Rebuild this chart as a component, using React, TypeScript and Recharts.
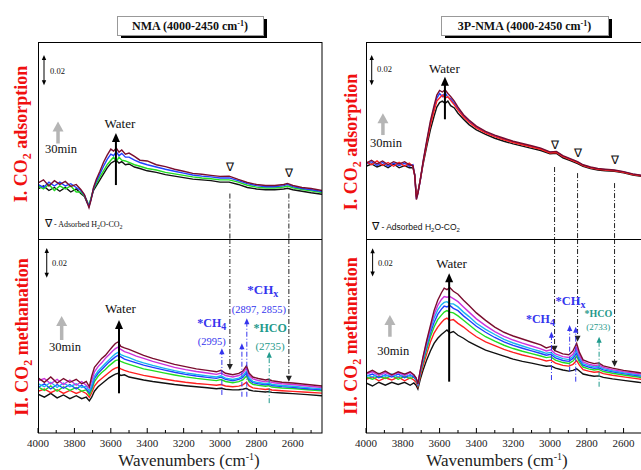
import React from 'react';
import { LineChart, Line, XAxis, YAxis, ReferenceLine, ReferenceDot } from 'recharts';

const SERIF = '"Liberation Serif", "Times New Roman", Times, serif';
const SANS = '"Liberation Sans", Arial, sans-serif';

// absorbance in units of 0.001 (scale bar "0.02" = 20)
const X_DOMAIN: [number, number] = [2440, 4000];
const Y_DOMAIN: [number, number] = [0, 130];
const X_TICKS = [4000, 3900, 3800, 3700, 3600, 3500, 3400, 3300, 3200, 3100, 3000, 2900, 2800, 2700, 2600, 2500];

const COLORS = {
  black: '#111111',
  red: '#ff2020',
  green: '#22dd22',
  blue: '#2040ff',
  cyan: '#19b5f0',
  magenta: '#cc33dd',
  maroon: '#7a0d2e',
};
const ANN_BLUE = '#3535ee';
const ANN_TEAL = '#1f9a8c';

// ---- NMA, I. CO2 adsorption ----
const nmaAdsW = [4000, 3970, 3940, 3910, 3880, 3850, 3820, 3790, 3765, 3745, 3730, 3720, 3708, 3695, 3680, 3660, 3640, 3620, 3600, 3585, 3570, 3555, 3540, 3520, 3500, 3470, 3440, 3400, 3350, 3300, 3250, 3200, 3150, 3100, 3050, 3000, 2950, 2900, 2850, 2800, 2750, 2700, 2650, 2630, 2600, 2550, 2500, 2440];
const nmaAdsBlack = [33, 35, 32, 34, 31.5, 34, 31, 33, 30, 28, 24, 22, 27, 32, 35, 39, 43, 47, 50, 51, 52, 50, 51, 49, 49.5, 47.5, 46.5, 45, 44, 42.5, 41.5, 40.5, 39.5, 39, 38.5, 37.5, 37.5, 36, 34, 33, 32.5, 32.5, 33, 33.5, 32.5, 31.5, 30.5, 29.5];
const nmaAdsGreen = [35, 33, 36, 32, 35, 33, 35, 31, 31, 28.5, 25, 22, 27.5, 33, 36.5, 41, 45, 49, 52, 54, 51, 54, 52, 51.5, 50.5, 49, 48, 46.5, 45.5, 44, 43, 42, 41, 40.3, 39.8, 39, 39, 37.5, 35.5, 34.2, 33.7, 33.7, 34.3, 35, 33.8, 32.7, 31.8, 30.7];
const nmaAdsBlue = [36, 34, 37.5, 35, 37.5, 35, 36.5, 34, 32, 29, 24.5, 21.5, 26.5, 33.5, 38, 43, 48, 52.5, 56, 55, 57.5, 55, 56.5, 54, 54, 52, 50.5, 49, 47.5, 46, 44.7, 43.5, 42.2, 41.5, 41, 40.3, 40.3, 38.5, 36.5, 35.2, 34.5, 34.5, 35.2, 36, 34.6, 33.3, 32.5, 31.3];
const nmaAdsMaroon = [37, 39, 35, 38.5, 36, 38, 34.7, 36, 32.7, 29.3, 24, 20.7, 26, 34, 39.3, 44.7, 50.7, 55.3, 59.3, 58, 60, 57.3, 58.7, 56, 56.7, 54.5, 52, 51.5, 49, 47.8, 46, 44.7, 43.3, 42.7, 42, 41.3, 41.5, 39.3, 37.3, 36, 35.3, 35.3, 36, 36.7, 35.3, 34, 33.3, 32];

// ---- NMA, II. CO2 methanation ----
const nmaMetW = [4000, 3965, 3930, 3895, 3860, 3825, 3790, 3760, 3735, 3718, 3705, 3690, 3670, 3650, 3630, 3610, 3590, 3575, 3560, 3545, 3525, 3500, 3460, 3420, 3370, 3310, 3250, 3190, 3130, 3070, 3020, 2995, 2970, 2930, 2897, 2875, 2855, 2840, 2820, 2790, 2750, 2735, 2715, 2660, 2600, 2520, 2440];
const nmaMetBlack = [26, 24, 26.5, 23.5, 25.5, 23, 25, 23, 24, 21.5, 24, 28, 31, 33, 35, 37, 38.5, 39.5, 40, 38.5, 39, 37.5, 36.5, 35.5, 34.5, 33.5, 32.5, 31.7, 31, 30.3, 29.7, 30, 29.3, 28.9, 29, 29.3, 30, 28.8, 28.2, 27.9, 27.5, 27.7, 27.2, 26.8, 26.4, 25.7, 25];
const nmaMetRed = [28, 29.5, 27, 29, 26.5, 28.5, 26.5, 28, 26.5, 24, 27, 31.5, 34.5, 36.5, 38.5, 40.5, 42.5, 43.5, 44, 43, 42, 41, 39.8, 38.6, 37.5, 36.2, 35, 34, 33.2, 32.6, 32, 32.5, 31.5, 31, 31.4, 32.3, 34, 31.5, 30.2, 29.7, 29.2, 29.5, 28.8, 28.3, 27.9, 27.3, 26.7];
const nmaMetGreen = [31, 28.5, 31.5, 28, 31, 28.5, 30.5, 28, 29, 25.5, 29, 34.5, 38, 40.5, 42.5, 45, 47, 48.5, 49, 48, 47, 46, 44.5, 43, 41.8, 40.3, 38.9, 37.6, 36.6, 35.8, 35.1, 35.8, 34.5, 33.7, 34.4, 35.6, 38.2, 34.4, 32.6, 31.9, 31.3, 31.7, 30.8, 30.2, 29.8, 29, 28.3];
const nmaMetBlue = [30.5, 33, 29.5, 32.5, 30, 32.5, 29.5, 32, 29.5, 27, 30.5, 36.5, 40, 42.5, 45, 47.5, 49.5, 51, 52, 51, 49.5, 48.5, 47, 45.5, 44, 42.3, 40.7, 39.3, 38.2, 37.3, 36.6, 37.4, 35.9, 35, 35.9, 37.3, 40.2, 35.8, 33.8, 33, 32.3, 32.8, 31.8, 31.1, 30.6, 29.7, 28.9];
const nmaMetCyan = [33, 31, 34, 30.5, 33.5, 31, 33, 30.5, 31.5, 28, 32, 38, 41.5, 44, 46.5, 49, 51.5, 53, 54, 52.5, 51.5, 50.5, 48.5, 47, 45.3, 43.5, 41.8, 40.3, 39.2, 38.3, 37.5, 38.3, 36.8, 35.9, 36.8, 38.3, 41.5, 36.8, 34.6, 33.8, 33, 33.5, 32.5, 31.8, 31.3, 30.4, 29.6];
const nmaMetMagenta = [35, 36.5, 33, 36, 32.5, 35.5, 32, 34.5, 32, 30, 35, 41, 44.5, 47, 50, 52.5, 55, 56.5, 57.5, 56, 54.5, 53.5, 51.5, 50, 48, 46, 44, 42.5, 41.2, 40.2, 39.3, 40.2, 38.5, 37.5, 38.5, 40, 43.5, 38.5, 36.2, 35.2, 34.3, 34.8, 33.8, 33, 32.5, 31.5, 30.5];
const nmaMetMaroon = [37, 34, 37.5, 33.5, 36.5, 34, 36, 33, 34.5, 31, 38, 44, 47, 50, 52, 55, 58, 60, 61, 58, 57, 56, 54, 52, 50, 48, 46, 44.5, 43, 42, 41, 42, 40, 39, 40, 41.5, 45, 40, 37.5, 36.5, 35.5, 36, 35, 34, 33.5, 32.5, 31.5];

// ---- 3P-NMA, I. CO2 adsorption ----
const pAdsW = [4000, 3970, 3940, 3910, 3880, 3850, 3820, 3790, 3765, 3745, 3735, 3726, 3718, 3705, 3690, 3670, 3650, 3630, 3615, 3600, 3585, 3570, 3555, 3540, 3520, 3500, 3470, 3440, 3400, 3350, 3300, 3250, 3200, 3150, 3100, 3050, 3000, 2965, 2930, 2890, 2850, 2820, 2780, 2740, 2700, 2650, 2600, 2550, 2500, 2440];
const pAdsBlack = [48, 49.5, 47.5, 49, 47, 49.5, 47, 48.5, 47, 47, 42.5, 28, 31, 39, 49, 61, 72, 81, 87, 90, 91, 89.5, 91, 88, 86.5, 83, 79, 75.5, 72, 69, 66.5, 64.5, 62.8, 61.3, 59.8, 58.4, 56.3, 56.5, 53.6, 51.7, 49.8, 47.9, 46.4, 45.5, 45, 44.6, 43.6, 42.2, 41.2, 40.2];
const pAdsRed = [51, 49, 51.5, 48.5, 50.5, 48, 50.5, 48, 50, 48, 41.5, 27.5, 30.5, 39, 50, 63, 75, 84.5, 91, 93, 95, 93, 94, 91.5, 88.5, 85, 80.5, 77, 73.3, 70, 67.5, 65.5, 63.7, 62.2, 60.7, 59.2, 56.8, 57.1, 54.3, 52.4, 50.4, 48.5, 47, 46, 45.5, 45, 44, 42.6, 41.6, 40.6];
const pAdsBlue = [49.5, 51, 48.5, 50.5, 48, 50, 48.5, 50, 48, 49, 41.8, 26.5, 30, 38.5, 50.5, 64, 76.5, 86.5, 93, 96, 94, 96.5, 93.5, 92.5, 89.5, 86, 81.3, 77.8, 74, 70.5, 68, 66, 64.1, 62.6, 61.1, 59.6, 57.2, 57.5, 54.7, 52.7, 50.7, 48.8, 47.3, 46.3, 45.8, 45.3, 44.3, 42.8, 41.8, 40.8];
const pAdsMaroon = [50, 52, 49.5, 51.5, 49, 51, 49.5, 51, 49, 48.5, 42, 26, 30, 39, 51, 65, 78, 88, 95, 98, 97, 98.5, 96, 94, 91, 87, 82, 78.5, 74.5, 71, 68.5, 66.5, 64.5, 63, 61.5, 60, 57.5, 57.8, 55, 53, 51, 49, 47.5, 46.5, 46, 45.5, 44.5, 43, 42, 41];

// ---- 3P-NMA, II. CO2 methanation ----
const pMetW = [4000, 3965, 3930, 3895, 3860, 3825, 3790, 3760, 3740, 3728, 3718, 3705, 3690, 3670, 3650, 3630, 3610, 3590, 3575, 3560, 3545, 3525, 3500, 3470, 3440, 3400, 3350, 3300, 3250, 3200, 3150, 3100, 3050, 3020, 2995, 2970, 2930, 2897, 2875, 2855, 2840, 2820, 2790, 2760, 2735, 2710, 2660, 2600, 2520, 2440];
const pMetBlack = [33.5, 31.5, 34, 32, 34, 32.5, 34, 32, 33.5, 32, 29.5, 36, 42, 49, 55, 60, 63.5, 66, 67.5, 69, 67, 68, 65.5, 63.5, 61, 58.5, 55.5, 53.5, 51.5, 49.5, 48, 46.8, 45.5, 44.7, 45, 43.5, 42.2, 41.5, 42, 43, 41.5, 39.5, 38.7, 38, 38.3, 37.3, 36.3, 35.3, 34, 32.7];
const pMetRed = [36, 37.5, 35, 37, 35.5, 37.5, 35, 37, 35.5, 34, 31, 38, 45, 53, 61, 67, 71, 74, 76, 77, 75.5, 76, 73.5, 71, 68, 64.5, 61, 58.5, 56, 54, 52.3, 50.8, 49.3, 48.3, 48.8, 46.8, 45.3, 44.8, 46, 48.5, 45.5, 42.5, 41.5, 40.7, 41, 39.8, 38.7, 37.6, 36.3, 35];
const pMetGreen = [37.5, 36, 38, 36.5, 38.5, 36, 38, 36.5, 37.5, 35.5, 32, 39.5, 47, 56, 64.5, 71, 76, 79, 81, 82, 81, 80.5, 78.5, 75.5, 72.5, 68.5, 64.5, 61.5, 58.8, 56.6, 54.8, 53.2, 51.6, 50.5, 51, 48.8, 47.2, 46.6, 48.2, 51.5, 47.5, 44.2, 43, 42.2, 42.6, 41.2, 40, 38.9, 37.5, 36.1];
const pMetBlue = [38, 39.5, 37, 39, 37.5, 39.5, 37, 39, 37.5, 36, 32.5, 40.5, 48.5, 58, 67, 74, 79.5, 83, 85, 84.5, 85.5, 83.5, 82, 78.5, 75.5, 71.5, 67.5, 64, 61, 58.7, 56.8, 55, 53.3, 52.1, 52.7, 50.3, 48.6, 48, 50, 53.5, 49, 45.5, 44.2, 43.3, 43.7, 42.3, 41, 39.8, 38.4, 37];
const pMetCyan = [39, 37.5, 40, 38, 39.5, 37.5, 39.5, 38, 39, 36.5, 33, 41, 49.5, 59.5, 69, 77, 82.5, 86, 87.5, 88, 86.5, 86.5, 84.5, 81, 78, 73.5, 69.5, 66, 62.8, 60.3, 58.3, 56.4, 54.6, 53.4, 54, 51.6, 49.8, 49.2, 51.3, 55.5, 50.5, 46.5, 45.2, 44.2, 44.6, 43.1, 41.7, 40.4, 39, 37.6];
const pMetMagenta = [39.5, 41, 38.5, 40.5, 38.5, 40.5, 38.5, 40.5, 38.5, 37, 33.5, 41.5, 50.5, 61, 70.5, 79.5, 85.5, 89.5, 91.5, 91, 91.5, 90, 88, 84.5, 81, 76.5, 72, 68, 64.8, 62.3, 60.2, 58.3, 56.4, 55, 55.7, 53, 51.2, 50.6, 52.8, 57.5, 52, 47.6, 46.2, 45.2, 45.6, 44, 42.5, 41.1, 39.7, 38.3];
const pMetMaroon = [40, 42, 39.5, 41.5, 39, 41, 39.5, 41, 39, 37, 33, 42, 51, 62, 72, 82, 89, 94, 97, 96, 97.5, 95, 93, 89, 85.5, 80.5, 75.5, 71, 67.5, 65, 63, 61, 59, 57, 58, 55, 53, 52.5, 55, 60, 54, 49, 47.5, 46.5, 47, 45, 43.5, 42, 40.5, 39];

type Series = { key: string; color: string; values: number[] };

const nmaAdsSeries: Series[] = [
  { key: 'black', color: COLORS.black, values: nmaAdsBlack },
  { key: 'green', color: COLORS.green, values: nmaAdsGreen },
  { key: 'blue', color: COLORS.blue, values: nmaAdsBlue },
  { key: 'maroon', color: COLORS.maroon, values: nmaAdsMaroon },
];
const nmaMetSeries: Series[] = [
  { key: 'black', color: COLORS.black, values: nmaMetBlack },
  { key: 'red', color: COLORS.red, values: nmaMetRed },
  { key: 'green', color: COLORS.green, values: nmaMetGreen },
  { key: 'blue', color: COLORS.blue, values: nmaMetBlue },
  { key: 'cyan', color: COLORS.cyan, values: nmaMetCyan },
  { key: 'magenta', color: COLORS.magenta, values: nmaMetMagenta },
  { key: 'maroon', color: COLORS.maroon, values: nmaMetMaroon },
];
const pAdsSeries: Series[] = [
  { key: 'black', color: COLORS.black, values: pAdsBlack },
  { key: 'blue', color: COLORS.blue, values: pAdsBlue },
  { key: 'red', color: COLORS.red, values: pAdsRed },
  { key: 'maroon', color: COLORS.maroon, values: pAdsMaroon },
];
const pMetSeries: Series[] = [
  { key: 'black', color: COLORS.black, values: pMetBlack },
  { key: 'red', color: COLORS.red, values: pMetRed },
  { key: 'green', color: COLORS.green, values: pMetGreen },
  { key: 'blue', color: COLORS.blue, values: pMetBlue },
  { key: 'cyan', color: COLORS.cyan, values: pMetCyan },
  { key: 'magenta', color: COLORS.magenta, values: pMetMagenta },
  { key: 'maroon', color: COLORS.maroon, values: pMetMaroon },
];

function buildRows(w: number[], series: Series[]) {
  return w.map((x, i) => {
    const row: Record<string, number> = { w: x };
    series.forEach((s) => {
      row[s.key] = s.values[i];
    });
    return row;
  });
}

// line with optional filled arrow head(s)
const arrowShape =
  (color: string, o: { width?: number; dash?: string; head?: number; hw?: number; both?: boolean } = {}) =>
  (p: any) => {
    const { x1, y1, x2, y2 } = p;
    const sw = o.width ?? 1;
    const h = o.head ?? 0;
    const hw = o.hw ?? Math.max(h * 0.45, sw * 1.2);
    const a = Math.atan2(y2 - y1, x2 - x1);
    const head = (x: number, y: number, ang: number) => {
      const bx = x - h * Math.cos(ang);
      const by = y - h * Math.sin(ang);
      const px = hw * Math.sin(ang);
      const py = hw * Math.cos(ang);
      return <polygon points={`${x},${y} ${bx + px},${by - py} ${bx - px},${by + py}`} fill={color} />;
    };
    const sx = o.both && h ? x1 + h * 0.7 * Math.cos(a) : x1;
    const sy = o.both && h ? y1 + h * 0.7 * Math.sin(a) : y1;
    const ex = h ? x2 - h * 0.7 * Math.cos(a) : x2;
    const ey = h ? y2 - h * 0.7 * Math.sin(a) : y2;
    return (
      <g>
        <line x1={sx} y1={sy} x2={ex} y2={ey} stroke={color} strokeWidth={sw} strokeDasharray={o.dash} />
        {h > 0 && head(x2, y2, a)}
        {h > 0 && o.both && head(x1, y1, a + Math.PI)}
      </g>
    );
  };

const seg = (k: string, a: [number, number], b: [number, number], shape: any) => (
  <ReferenceLine
    key={k}
    xAxisId="w"
    yAxisId="a"
    segment={[{ x: a[0], y: a[1] }, { x: b[0], y: b[1] }]}
    ifOverflow="visible"
    shape={shape}
  />
);

const txt = (k: string, x: number, y: number, content: React.ReactNode, style: any) => (
  <ReferenceDot
    key={k}
    xAxisId="w"
    yAxisId="a"
    x={x}
    y={y}
    r={0}
    ifOverflow="visible"
    shape={(p: any) => (
      <text x={p.cx} y={p.cy} {...style}>
        {content}
      </text>
    )}
  />
);

const DASHDOT = '5 2 1 2';
const blackDash = arrowShape('#222', { dash: DASHDOT });
const blackDashArrow = arrowShape('#222', { dash: DASHDOT, head: 6, hw: 3 });
const blueArrow = arrowShape(ANN_BLUE, { dash: DASHDOT, head: 6, hw: 2.6 });
const tealArrow = arrowShape(ANN_TEAL, { dash: DASHDOT, head: 6, hw: 2.6 });
const scaleBar = arrowShape('#000', { width: 1, head: 5, hw: 2.2, both: true });
const waterArrow = arrowShape('#000', { width: 2, head: 9, hw: 4 });
const greyArrow = arrowShape('#b5b5b5', { width: 3.5, head: 10, hw: 5.5 });

const serifText = (size: number, extra: any = {}) => ({ fontFamily: SERIF, fontSize: size, fill: '#111', ...extra });

function bottomTick(p: any) {
  const v = p.payload.value;
  const major = v % 200 === 0;
  const ay = p.y - 8;
  return (
    <g>
      <line x1={p.x} x2={p.x} y1={ay} y2={ay - (major ? 5 : 3)} stroke="#000" strokeWidth={1} />
      {major && (
        <text x={p.x} y={ay + 14} textAnchor="middle" fontSize={11} fontFamily={SERIF} fill="#222">
          {v}
        </text>
      )}
    </g>
  );
}

function topTick(p: any) {
  const v = p.payload.value;
  const major = v % 200 === 0;
  const ay = p.y + 8;
  return <line x1={p.x} x2={p.x} y1={ay} y2={ay + (major ? 5 : 3)} stroke="#000" strokeWidth={1} />;
}

const PAD = 22; // room left of the plot for the first tick label

function Panel(props: {
  left: number;
  top: number;
  width: number;
  height: number;
  axis: 'top' | 'bottom';
  w: number[];
  series: Series[];
  children?: React.ReactNode;
}) {
  const { left, top, width, height, axis, w, series, children } = props;
  const data = buildRows(w, series);
  const axisH = axis === 'bottom' ? 22 : 0;
  return (
    <div style={{ position: 'absolute', left: left - PAD, top }}>
      <LineChart
        width={width + PAD}
        height={height + axisH}
        data={data}
        margin={{ top: 0, right: 0, bottom: 0, left: PAD }}
      >
        <XAxis
          xAxisId="w"
          dataKey="w"
          type="number"
          domain={X_DOMAIN}
          reversed
          allowDataOverflow
          orientation={axis}
          height={axisH}
          ticks={X_TICKS}
          interval={0}
          tickSize={6}
          tickMargin={2}
          tickLine={false}
          axisLine={false}
          tick={axis === 'bottom' ? bottomTick : topTick}
        />
        <YAxis yAxisId="a" type="number" domain={Y_DOMAIN} allowDataOverflow hide />
        {series.map((s) => (
          <Line
            key={s.key}
            xAxisId="w"
            yAxisId="a"
            type="linear"
            dataKey={s.key}
            stroke={s.color}
            strokeWidth={1.4}
            dot={false}
            isAnimationActive={false}
          />
        ))}
        {children}
      </LineChart>
    </div>
  );
}

const sub = (t: string, size: number, shift = 3) => [
  <tspan key="s" dy={shift} fontSize={size}>
    {t}
  </tspan>,
  <tspan key="r" dy={-shift}>
    {''}
  </tspan>,
];

function legendSerif() {
  return [
    <tspan key="a" fontSize={11}>∇</tspan>,
    <tspan key="b" fontSize={8}> - Adsorbed H</tspan>,
    <tspan key="c" fontSize={6} dy={2}>2</tspan>,
    <tspan key="d" fontSize={8} dy={-2}>O-CO</tspan>,
    <tspan key="e" fontSize={6} dy={2}>2</tspan>,
  ];
}

function TitleBox({ x, y, w, text }: { x: number; y: number; w: number; text: string }) {
  return (
    <g>
      <rect x={x + 4} y={y + 3} width={w} height={19} fill="#000" />
      <rect x={x + 0.5} y={y + 0.5} width={w} height={19} fill="#fff" stroke="#999" />
      <text x={x + w / 2} y={y + 14} textAnchor="middle" fontFamily={SERIF} fontWeight="bold" fontSize={12} fill="#111">
        {text} (4000-2450 cm<tspan dy={-4} fontSize={8}>-1</tspan>
        <tspan dy={4}>)</tspan>
      </text>
    </g>
  );
}

function SideLabel({ x, y, roman, word }: { x: number; y: number; roman: string; word: string }) {
  return (
    <text
      transform={`translate(${x},${y}) rotate(-90)`}
      textAnchor="middle"
      fill="#f01010"
      fontFamily={SERIF}
      fontWeight="bold"
      fontSize={18}
    >
      {roman}. CO<tspan dy={4} fontSize={12}>2</tspan>
      <tspan dy={-4}> {word}</tspan>
    </text>
  );
}

function XTitle({ x }: { x: number }) {
  return (
    <text x={x} y={466} textAnchor="middle" fontFamily={SERIF} fontSize={17} fill="#222">
      Wavenumbers (cm<tspan dy={-6} fontSize={10}>-1</tspan>
      <tspan dy={6}>)</tspan>
    </text>
  );
}

export default function App() {
  return (
    <div
      style={{
        position: 'absolute',
        left: 0,
        top: 0,
        width: 641,
        height: 470,
        overflow: 'hidden',
        background: '#fff',
        fontFamily: SERIF,
      }}
    >
      {/* NMA adsorption */}
      <Panel left={38} top={42} width={284} height={197} axis="top" w={nmaAdsW} series={nmaAdsSeries}>
        {[
          seg('sb', [3967, 101.5], [3967, 121.5], scaleBar),
          txt('sbt', 3934, 109, '0.02', serifText(8.5)),
          seg('ga', [3890, 63], [3890, 77.5], greyArrow),
          txt('gt', 3874, 56.7, '30min', serifText(12.5, { textAnchor: 'middle' })),
          txt('wt', 3550, 73.2, 'Water', serifText(13, { textAnchor: 'middle' })),
          seg('wa', [3572, 35.6], [3572, 70], waterArrow),
          txt('n1', 2946, 44.9, '∇', serifText(12, { textAnchor: 'middle' })),
          txt('n2', 2622, 40.9, '∇', serifText(12, { textAnchor: 'middle' })),
          seg('d1', [2946, 30], [2946, 0], blackDash),
          seg('d2', [2622, 30], [2622, 0], blackDash),
          txt('lg', 3962, 7.9, legendSerif(), serifText(8)),
        ]}
      </Panel>

      {/* NMA methanation */}
      <Panel left={38} top={239} width={284} height={194} axis="bottom" w={nmaMetW} series={nmaMetSeries}>
        {[
          seg('sb', [3952, 104], [3952, 124], scaleBar),
          txt('sbt', 3923, 112, '0.02', serifText(8.5)),
          seg('ga', [3870, 62.3], [3870, 78.4], greyArrow),
          txt('gt', 3852, 55.2, '30min', serifText(12.5, { textAnchor: 'middle' })),
          txt('wt', 3547, 80.2, 'Water', serifText(13, { textAnchor: 'middle' })),
          seg('wa', [3555, 26.6], [3555, 75.7], waterArrow),
          seg('d1', [2946, 130], [2946, 42.2], blackDashArrow),
          seg('d2', [2622, 130], [2622, 34.4], blackDashArrow),
          txt('c4', 3045, 71.2, ['*CH', ...sub('4', 10)], serifText(12, { textAnchor: 'middle', fontWeight: 'bold', fill: ANN_BLUE })),
          txt('c4n', 3045, 59, '(2995)', serifText(10.5, { textAnchor: 'middle', fill: ANN_BLUE })),
          seg('c4a', [2990, 25.5], [2990, 56.8], blueArrow),
          txt('cx', 2765, 93.2, ['*CH', ...sub('x', 10)], serifText(13, { textAnchor: 'middle', fontWeight: 'bold', fill: ANN_BLUE })),
          txt('cxn', 2787, 80.2, '(2897, 2855)', serifText(10.5, { textAnchor: 'middle', fill: ANN_BLUE })),
          seg('cxa1', [2880, 24.3], [2880, 60.1], blueArrow),
          seg('cxa2', [2853, 24.3], [2853, 76.9], blueArrow),
          txt('hc', 2725, 67.9, '*HCO', serifText(12, { textAnchor: 'middle', fontWeight: 'bold', fill: ANN_TEAL })),
          txt('hcn', 2725, 55.6, '(2735)', serifText(11, { textAnchor: 'middle', fill: ANN_TEAL })),
          seg('hca', [2730, 20], [2730, 54.5], tealArrow),
        ]}
      </Panel>

      {/* 3P-NMA adsorption */}
      <Panel left={366} top={42} width={287} height={197} axis="top" w={pAdsW} series={pAdsSeries}>
        {[
          seg('sb', [3969, 101.5], [3969, 121.5], scaleBar),
          txt('sbt', 3940, 110.5, '0.02', serifText(8.5)),
          seg('ga', [3908, 68.6], [3908, 83], greyArrow),
          txt('gt', 3891, 60.7, '30min', serifText(12.5, { textAnchor: 'middle' })),
          txt('wt', 3574, 109.5, 'Water', serifText(13, { textAnchor: 'middle' })),
          seg('wa', [3571, 79], [3571, 107], waterArrow),
          txt('n1', 2975, 59.5, '∇', serifText(12, { textAnchor: 'middle' })),
          txt('n2', 2850, 54, '∇', serifText(12, { textAnchor: 'middle' })),
          txt('n3', 2649, 49.5, '∇', serifText(12, { textAnchor: 'middle' })),
          seg('d1', [2975, 47.5], [2975, 0], blackDash),
          seg('d2', [2850, 43.5], [2850, 0], blackDash),
          seg('d3', [2649, 36.9], [2649, 0], blackDash),
          txt(
            'lg',
            3967,
            5.9,
            [
              <tspan key="a" fontSize={11}>∇</tspan>,
              <tspan key="b"> - Adsorbed H</tspan>,
              <tspan key="c" fontSize={6} dy={2}>2</tspan>,
              <tspan key="d" dy={-2}>O-CO</tspan>,
              <tspan key="e" fontSize={6} dy={2}>2</tspan>,
            ],
            { fontFamily: SANS, fontSize: 8.5, fill: '#111' }
          ),
        ]}
      </Panel>

      {/* 3P-NMA methanation */}
      <Panel left={366} top={239} width={287} height={194} axis="bottom" w={pMetW} series={pMetSeries}>
        {[
          seg('sb', [3964, 104.8], [3964, 123.8], scaleBar),
          txt('sbt', 3935, 111.7, '0.02', serifText(8.5)),
          seg('ga', [3870, 64.5], [3870, 79], greyArrow),
          txt('gt', 3852, 52.3, '30min', serifText(12.5, { textAnchor: 'middle' })),
          txt('wt', 3535, 110.4, 'Water', serifText(13, { textAnchor: 'middle' })),
          seg('wa', [3548, 34.4], [3548, 107], waterArrow),
          seg('d1', [2975, 130], [2975, 54.5], blackDashArrow),
          seg('d2', [2850, 130], [2850, 61.2], blackDashArrow),
          seg('d3', [2649, 130], [2649, 44.4], blackDashArrow),
          txt('c4', 3052, 73.5, ['*CH', ...sub('4', 10)], serifText(12, { textAnchor: 'middle', fontWeight: 'bold', fill: ANN_BLUE })),
          seg('c4a', [2992, 35.5], [2992, 67.9], blueArrow),
          txt('cx', 2889, 85.8, ['*CH', ...sub('x', 10)], serifText(12.5, { textAnchor: 'middle', fontWeight: 'bold', fill: ANN_BLUE })),
          seg('cxa1', [2893, 41.1], [2893, 72.4], blueArrow),
          seg('cxa2', [2860, 34.4], [2860, 71.2], blueArrow),
          txt('hc', 2737, 77.5, '*HCO', serifText(10, { textAnchor: 'middle', fontWeight: 'bold', fill: ANN_TEAL })),
          txt('hcn', 2737, 69, '(2733)', serifText(9, { textAnchor: 'middle', fill: ANN_TEAL })),
          seg('hca', [2733, 31], [2733, 64.5], tealArrow),
        ]}
      </Panel>

      <svg width={641} height={470} style={{ position: 'absolute', left: 0, top: 0, pointerEvents: 'none' }}>
        <rect x={38.5} y={42.5} width={283.5} height={390.5} fill="none" stroke="#000" />
        <line x1={38} x2={322} y1={239.5} y2={239.5} stroke="#000" />
        <rect x={366.5} y={42.5} width={300} height={390.5} fill="none" stroke="#000" />
        <line x1={366} x2={660} y1={239.5} y2={239.5} stroke="#000" />

        <TitleBox x={117} y={16} w={146} text="NMA" />
        <TitleBox x={441} y={16} w={167} text="3P-NMA" />

        <SideLabel x={27} y={134} roman="I" word="adsorption" />
        <SideLabel x={28} y={337} roman="II" word="methanation" />
        <SideLabel x={357} y={142} roman="I" word="adsorption" />
        <SideLabel x={357} y={336} roman="II" word="methanation" />

        <XTitle x={189} />
        <XTitle x={497} />
      </svg>
    </div>
  );
}
